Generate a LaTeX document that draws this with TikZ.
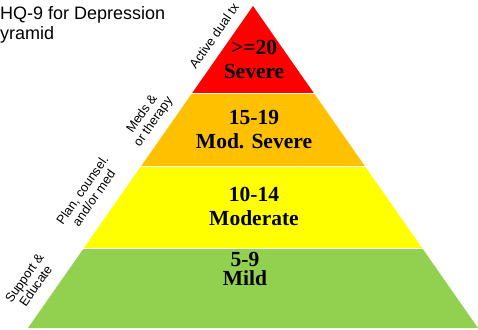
\documentclass[tikz,border=0pt]{standalone}
\usepackage{fontspec}
\setmainfont{Liberation Serif}
\newfontfamily\titlefont{Liberation Sans}
\usetikzlibrary{positioning}

\definecolor{sevred}{HTML}{FF0000}
\definecolor{modsevorange}{HTML}{FFC000}
\definecolor{modyellow}{HTML}{FFFF00}
\definecolor{mildgreen}{HTML}{92D050}

\tikzset{
  bandtext/.style={align=center, inner sep=0pt, font=\fontsize{21.5}{24}\selectfont\bfseries},
  caretext/.style={align=center, rotate=55, inner sep=0pt, font=\titlefont\fontsize{12.8}{14}\selectfont},
}

\begin{document}
\begin{tikzpicture}[x=1pt, y=-1pt]
  \useasboundingbox (0,0) rectangle (478,329);
  \coordinate (apex) at (253,6);
  \coordinate (bl) at (28,328);
  \coordinate (br) at (478,328);

  % pyramid bands
  \begin{scope}
    \clip (apex) -- (bl) -- (br) -- cycle;
    \fill[sevred] (0,0) rectangle (478,92.5);
    \fill[modsevorange] (0,94) rectangle (478,165.5);
    \fill[modyellow] (0,167) rectangle (478,247.5);
    \fill[mildgreen] (0,249) rectangle (478,329);
  \end{scope}

  \node (title) [anchor=north west, align=left, inner sep=0pt, font=\titlefont\fontsize{18}{20.5}\selectfont] at (0,6) {HQ-9 for Depression\\yramid};

  \node (severe) [bandtext] at (254,59) {>=20\\Severe};
  \node (modsevere) [bandtext] at (254,130) {15-19\\Mod. Severe};
  \node (moderate) [bandtext] at (254,206) {10-14\\Moderate};
  \node (mild) [bandtext, font=\fontsize{21.5}{19}\selectfont\bfseries] at (245,269) {5-9\\Mild};

  % treatment labels along the side
  \node (dualtx) [caretext] at (214,36) {Active dual tx};
  \node (medstherapy) [caretext] at (148,118) {Meds \&\\or therapy};
  \node (plancounsel) [caretext] at (88,194) {Plan, counsel.\\and/or med};
  \node (supportedu) [caretext] at (30,282) {Support \&\\Educate};
\end{tikzpicture}
\end{document}
